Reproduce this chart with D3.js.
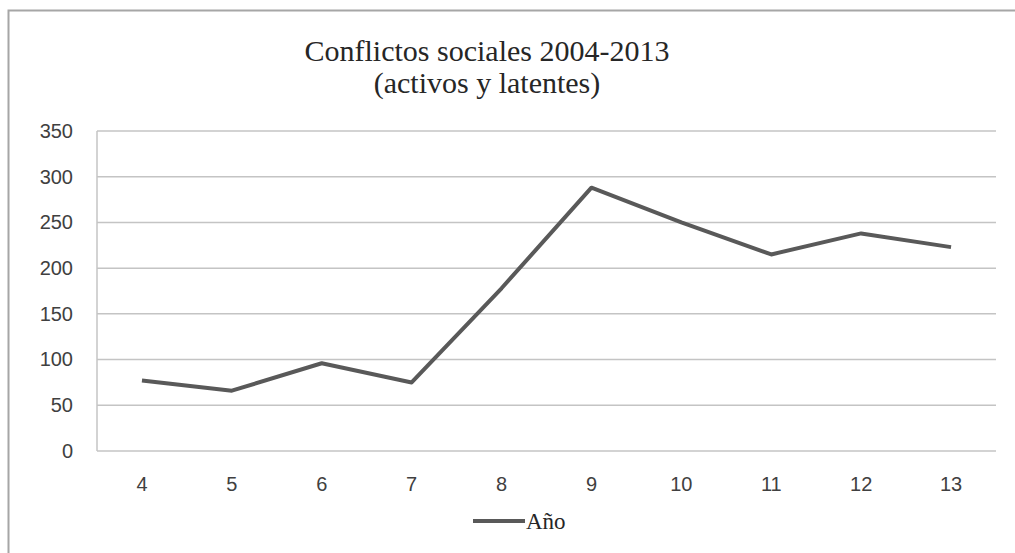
<!DOCTYPE html>
<html>
<head>
<meta charset="utf-8">
<script src="https://cdn.jsdelivr.net/npm/d3@7"></script>
<style>
  body { margin: 0; background: #fff; }
  svg { display: block; }
</style>
</head>
<body>
<div id="chart"></div>
<script>
// Data
const years = ['4', '5', '6', '7', '8', '9', '10', '11', '12', '13'];
const conflicts = [77, 66, 96, 75, 178, 288, 250, 215, 238, 223];
const yTicks = [0, 50, 100, 150, 200, 250, 300, 350];
const titleLines = ['Conflictos sociales 2004-2013', '(activos y latentes)'];
const seriesName = 'Año';

const width = 1015;
const height = 553;
const plot = { left: 97, right: 996, top: 131, bottom: 451 };

const svg = d3.select('#chart')
    .append('svg')
    .attr('width', width)
    .attr('height', height);

// Outer chart border (only top and left visible in the crop)
svg.append('rect')
    .attr('x', 8.5)
    .attr('y', 10.5)
    .attr('width', width + 20)
    .attr('height', height + 20)
    .attr('fill', 'none')
    .attr('stroke', '#a6a6a6')
    .attr('stroke-width', 2);

// Scales
const x = d3.scaleBand()
    .domain(years)
    .range([plot.left, plot.right]);

const y = d3.scaleLinear()
    .domain([0, 350])
    .range([plot.bottom, plot.top]);

// Horizontal gridlines
svg.append('g')
    .selectAll('line')
    .data(yTicks)
    .enter().append('line')
    .attr('x1', plot.left)
    .attr('x2', plot.right)
    .attr('y1', d => y(d))
    .attr('y2', d => y(d))
    .attr('stroke', '#c4c4c4')
    .attr('stroke-width', 1.5);

// Vertical axis line
svg.append('line')
    .attr('x1', plot.left)
    .attr('x2', plot.left)
    .attr('y1', plot.top)
    .attr('y2', plot.bottom)
    .attr('stroke', '#c4c4c4')
    .attr('stroke-width', 1.5);

// Y axis labels
const yAxis = d3.axisLeft(y).tickValues(yTicks).tickSize(0).tickPadding(0);
const yG = svg.append('g')
    .attr('transform', `translate(${plot.left - 24},0)`)
    .call(yAxis);
yG.select('.domain').remove();
yG.selectAll('text')
    .attr('fill', '#404040')
    .style('font-family', '"Liberation Sans", Arial, sans-serif')
    .style('font-size', '20px');

// X axis labels
const xAxis = d3.axisBottom(x).tickSize(0).tickPadding(0);
const xG = svg.append('g')
    .attr('transform', `translate(0,${plot.bottom + 26})`)
    .call(xAxis);
xG.select('.domain').remove();
xG.selectAll('text')
    .attr('fill', '#404040')
    .style('font-family', '"Liberation Sans", Arial, sans-serif')
    .style('font-size', '20px');

// Data line
const line = d3.line()
    .x((d, i) => x(years[i]) + x.bandwidth() / 2)
    .y(d => y(d));

svg.append('path')
    .datum(conflicts)
    .attr('d', line)
    .attr('fill', 'none')
    .attr('stroke', '#595959')
    .attr('stroke-width', 4)
    .attr('stroke-linejoin', 'round');

// Title
svg.append('g')
    .selectAll('text')
    .data(titleLines)
    .enter().append('text')
    .attr('x', 487)
    .attr('y', (d, i) => 61 + i * 32)
    .attr('text-anchor', 'middle')
    .attr('fill', '#262626')
    .style('font-family', '"Liberation Serif", "Times New Roman", serif')
    .style('font-size', '30px')
    .text(d => d);

// Legend
const legend = svg.append('g');
legend.append('line')
    .attr('x1', 473)
    .attr('x2', 525)
    .attr('y1', 521)
    .attr('y2', 521)
    .attr('stroke', '#595959')
    .attr('stroke-width', 4);
legend.append('text')
    .attr('x', 526)
    .attr('y', 529)
    .attr('fill', '#262626')
    .style('font-family', '"Liberation Serif", "Times New Roman", serif')
    .style('font-size', '23px')
    .text(seriesName);
</script>
</body>
</html>
